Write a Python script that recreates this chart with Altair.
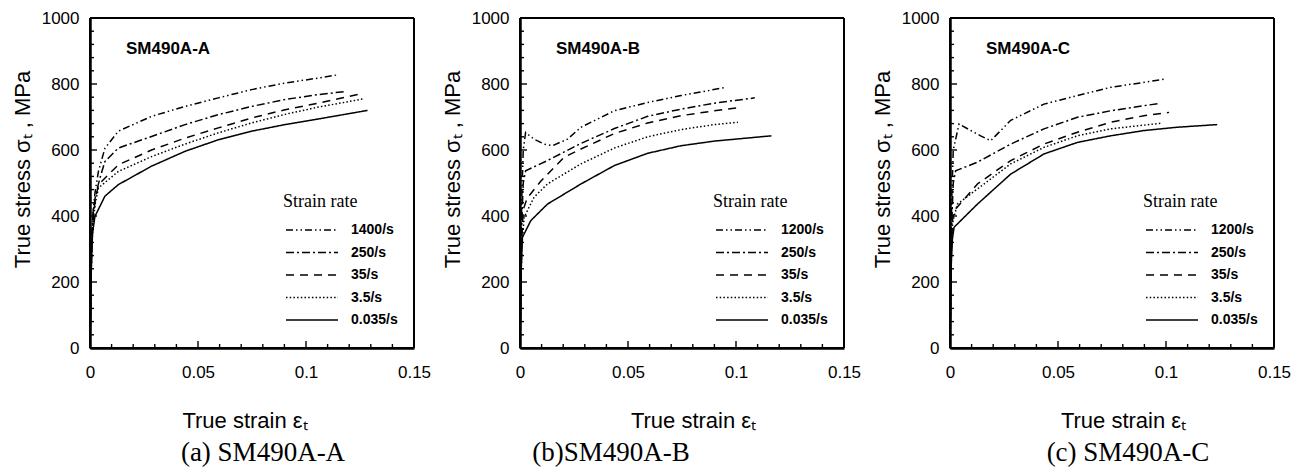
import altair as alt
import pandas as pd

# ---------------- data ----------------
RATES_A = ["1400/s", "250/s", "35/s", "3.5/s", "0.035/s"]
RATES_BC = ["1200/s", "250/s", "35/s", "3.5/s", "0.035/s"]

# Panel (a) SM490A-A
A_1400_x = [0, 0.0008, 0.0015, 0.0023, 0.0039, 0.0069, 0.0131, 0.0285, 0.044, 0.0594, 0.0748, 0.0903, 0.1057, 0.115]
A_1400_y = [0, 330, 420, 470, 535, 605, 657, 702, 732, 758, 783, 803, 818, 828]
A_250_x = [0, 0.0008, 0.0015, 0.0025, 0.0046, 0.0069, 0.0131, 0.0285, 0.044, 0.0594, 0.0748, 0.0903, 0.1057, 0.118]
A_250_y = [0, 320, 410, 460, 515, 565, 606, 641, 677, 707, 732, 753, 768, 777]
A_35_x = [0, 0.0008, 0.0015, 0.0025, 0.0039, 0.0131, 0.0285, 0.044, 0.0594, 0.0748, 0.0903, 0.1057, 0.124]
A_35_y = [0, 310, 400, 450, 495, 555, 600, 636, 667, 697, 722, 742, 768]
A_3p5_x = [0, 0.0008, 0.0015, 0.0025, 0.0039, 0.0131, 0.0285, 0.044, 0.0594, 0.0748, 0.0903, 0.1057, 0.1266]
A_3p5_y = [0, 300, 390, 440, 485, 535, 580, 618, 652, 682, 708, 730, 755]
A_0p035_x = [0, 0.0006, 0.0012, 0.0023, 0.0069, 0.0131, 0.0285, 0.044, 0.0594, 0.0748, 0.0903, 0.1057, 0.1285]
A_0p035_y = [0, 250, 350, 399, 460, 495, 551, 596, 631, 657, 677, 694, 720]

# Panel (b) SM490A-B
B_1200_x = [0, 0.0008, 0.0015, 0.0026, 0.0065, 0.0111, 0.015, 0.022, 0.0282, 0.0437, 0.0591, 0.0746, 0.0955]
B_1200_y = [0, 450, 600, 653, 633, 618, 613, 633, 669, 719, 744, 765, 790]
B_250_x = [0, 0.0008, 0.0015, 0.0026, 0.0127, 0.0282, 0.0437, 0.0591, 0.0746, 0.09, 0.1087]
B_250_y = [0, 380, 500, 537, 568, 620, 665, 702, 724, 742, 758]
B_35_x = [0, 0.0008, 0.0015, 0.0034, 0.0096, 0.0204, 0.0282, 0.0437, 0.0591, 0.0746, 0.09, 0.1025]
B_35_y = [0, 330, 420, 455, 505, 578, 603, 650, 682, 704, 719, 729]
B_3p5_x = [0, 0.0008, 0.0019, 0.0065, 0.0127, 0.0282, 0.0437, 0.0591, 0.0746, 0.09, 0.1009]
B_3p5_y = [0, 300, 396, 457, 497, 558, 606, 640, 662, 677, 684]
B_0p035_x = [0, 0.0005, 0.0011, 0.005, 0.0127, 0.0282, 0.0437, 0.0591, 0.0746, 0.09, 0.1164]
B_0p035_y = [0, 230, 335, 386, 436, 497, 553, 590, 613, 627, 643]

# Panel (c) SM490A-C
C_1200_x = [0, 0.0008, 0.0015, 0.0042, 0.0096, 0.0142, 0.0188, 0.0235, 0.0281, 0.0435, 0.059, 0.0744, 0.0898, 0.0998]
C_1200_y = [0, 450, 600, 679, 659, 643, 628, 659, 690, 739, 765, 790, 805, 815]
C_250_x = [0, 0.0008, 0.0015, 0.0026, 0.0127, 0.0281, 0.0435, 0.059, 0.0744, 0.0967]
C_250_y = [0, 380, 500, 537, 563, 618, 664, 699, 719, 741]
C_35_x = [0, 0.0006, 0.0012, 0.0019, 0.0127, 0.0281, 0.0435, 0.059, 0.0744, 0.0898, 0.1014]
C_35_y = [0, 300, 390, 416, 497, 568, 618, 654, 684, 704, 714]
C_3p5_x = [0, 0.0006, 0.0012, 0.0034, 0.0127, 0.0281, 0.0435, 0.059, 0.0744, 0.0975]
C_3p5_y = [0, 290, 380, 436, 482, 558, 608, 643, 664, 681]
C_0p035_x = [0, 0.0005, 0.0011, 0.0019, 0.0127, 0.0281, 0.0435, 0.059, 0.0744, 0.0898, 0.1052, 0.1237]
C_0p035_y = [0, 240, 330, 366, 436, 527, 588, 623, 643, 659, 669, 677]

TAGS = ["SM490A-A", "SM490A-B", "SM490A-C"]
CAPTIONS = ["(a) SM490A-A", "(b)SM490A-B", "(c) SM490A-C"]

X_DOMAIN = [0, 0.15]
Y_DOMAIN = [0, 1000]
X_LABEL_VALUES = [0, 0.05, 0.1, 0.15]
X_MAJOR_TICKS = [0.05, 0.1]
X_MINOR_TICKS = [0.01, 0.02, 0.03, 0.04, 0.06, 0.07, 0.08, 0.09, 0.11, 0.12, 0.13, 0.14]
Y_LABEL_VALUES = [0, 200, 400, 600, 800, 1000]
Y_MAJOR_TICKS = [200, 400, 600, 800]
Y_MINOR_TICKS = [40, 80, 120, 160, 240, 280, 320, 360, 440, 480, 520, 560,
                 640, 680, 720, 760, 840, 880, 920, 960]

# ---------------- styles ----------------
DASHES = [[7, 3, 1.5, 3, 1.5, 3], [8, 3, 2, 3], [8, 6], [1.5, 2.2], [1, 0]]
WIDTHS = [1.5, 1.5, 1.6, 1.5, 2.2]
W, H = 324, 330
MAJOR_PX, MINOR_PX = 7, 4
SANS = "Liberation Sans"
SERIF = "Liberation Serif"


def panel(rates, series, tag, caption, cap_dx, xtitle_x):
    rows = []
    for rate, (xs, ys) in zip(rates, series):
        for i, (x, y) in enumerate(zip(xs, ys)):
            rows.append({"rate": rate, "strain": x, "stress": y, "idx": i})
    df = pd.DataFrame(rows)

    xscale = alt.Scale(domain=X_DOMAIN, nice=False, zero=False)
    yscale = alt.Scale(domain=Y_DOMAIN, nice=False)

    # frame: the four edges of the axis-domain rectangle
    edges = pd.DataFrame({
        "sx": [X_DOMAIN[0], X_DOMAIN[0], X_DOMAIN[0], X_DOMAIN[1]],
        "sx2": [X_DOMAIN[1], X_DOMAIN[1], X_DOMAIN[0], X_DOMAIN[1]],
        "sy": [Y_DOMAIN[0], Y_DOMAIN[1], Y_DOMAIN[0], Y_DOMAIN[0]],
        "sy2": [Y_DOMAIN[0], Y_DOMAIN[1], Y_DOMAIN[1], Y_DOMAIN[1]],
    })
    # inward ticks on the bottom and left edges
    ylen = lambda px: px / H * (Y_DOMAIN[1] - Y_DOMAIN[0])
    xlen = lambda px: px / W * (X_DOMAIN[1] - X_DOMAIN[0])
    tk = []
    for vals, px in ((X_MAJOR_TICKS, MAJOR_PX), (X_MINOR_TICKS, MINOR_PX)):
        for v in vals:
            tk.append({"sx": v, "sx2": v, "sy": Y_DOMAIN[0], "sy2": ylen(px)})
    for vals, px in ((Y_MAJOR_TICKS, MAJOR_PX), (Y_MINOR_TICKS, MINOR_PX)):
        for v in vals:
            tk.append({"sx": X_DOMAIN[0], "sx2": xlen(px), "sy": v, "sy2": v})
    ticks_df = pd.DataFrame(tk)

    frame = alt.Chart(edges).mark_rule(color="black", strokeWidth=2).encode(
        x=alt.X("sx:Q", scale=xscale, axis=None), x2="sx2:Q",
        y=alt.Y("sy:Q", scale=yscale, axis=None), y2="sy2:Q")
    ticks = alt.Chart(ticks_df).mark_rule(color="black", strokeWidth=1.4).encode(
        x=alt.X("sx:Q", scale=xscale, axis=None), x2="sx2:Q",
        y=alt.Y("sy:Q", scale=yscale, axis=None), y2="sy2:Q")

    lines = alt.Chart(df).mark_line(color="black").encode(
        x=alt.X("strain:Q", scale=xscale,
                axis=alt.Axis(values=X_LABEL_VALUES, format=".2~f", title="True strain  εₜ",
                              labelFontSize=17, titleFontSize=22, labelPadding=16,
                              titlePadding=30, titleX=xtitle_x, ticks=False, domain=True,
                              domainColor="black", domainWidth=2.5, grid=False,
                              labelFlush=False)),
        y=alt.Y("stress:Q", scale=yscale,
                axis=alt.Axis(values=Y_LABEL_VALUES, format="d", title="True stress σₜ , MPa",
                              labelFontSize=17, titleFontSize=22, labelPadding=11,
                              titlePadding=7, titleY=151, ticks=False, domain=True,
                              domainColor="black", domainWidth=2.5, grid=False,
                              labelFlush=False)),
        strokeDash=alt.StrokeDash(
            "rate:N", scale=alt.Scale(domain=rates, range=DASHES),
            legend=alt.Legend(
                title="Strain rate", orient="none", legendX=193, legendY=175,
                titleFont=SERIF, titleFontSize=18, titleFontWeight="normal",
                titleColor="black", titlePadding=8,
                labelFont=SANS, labelFontSize=14, labelFontWeight="bold",
                labelColor="black", labelOffset=46,
                symbolType="M-0.8,0H4.4", symbolSize=400, symbolStrokeWidth=1.5,
                symbolStrokeColor="black", symbolFillColor="transparent",
                rowPadding=4.5)),
        strokeWidth=alt.StrokeWidth("rate:N", scale=alt.Scale(domain=rates, range=WIDTHS),
                                    legend=None),
        order="idx:Q",
    )

    label = alt.Chart(pd.DataFrame({"t": [tag]})).mark_text(
        align="left", baseline="middle", font=SANS, fontSize=17, fontWeight="bold",
        color="black").encode(text="t:N", x=alt.value(36), y=alt.value(31))

    return alt.layer(lines, label, frame, ticks).resolve_axis(
        x="independent", y="independent").properties(
        width=W, height=H,
        title=alt.TitleParams(caption, orient="bottom", font=SERIF, fontSize=27,
                              fontWeight="normal", color="black", offset=9,
                              baseline="top", anchor="middle", frame="group", dx=cap_dx))


pa = panel(RATES_A, [(A_1400_x, A_1400_y), (A_250_x, A_250_y), (A_35_x, A_35_y),
                     (A_3p5_x, A_3p5_y), (A_0p035_x, A_0p035_y)], TAGS[0], CAPTIONS[0], 11, 154.5)
pb = panel(RATES_BC, [(B_1200_x, B_1200_y), (B_250_x, B_250_y), (B_35_x, B_35_y),
                      (B_3p5_x, B_3p5_y), (B_0p035_x, B_0p035_y)], TAGS[1], CAPTIONS[1], -71, 173)
pc = panel(RATES_BC, [(C_1200_x, C_1200_y), (C_250_x, C_250_y), (C_35_x, C_35_y),
                      (C_3p5_x, C_3p5_y), (C_0p035_x, C_0p035_y)], TAGS[2], CAPTIONS[2], 16, 173)

chart = alt.hconcat(pa, pb, pc, spacing=8).resolve_scale(
    strokeDash="independent", strokeWidth="independent"
).resolve_legend(strokeDash="independent").properties(
    padding={"left": 2, "top": 0, "right": 0, "bottom": 0}
).configure_axis(
    labelFont=SANS, titleFont=SANS, labelColor="black", titleColor="black",
    titleFontWeight="normal", tickColor="black")

chart.save("out.html", embed_options={"renderer": "svg", "actions": False})
